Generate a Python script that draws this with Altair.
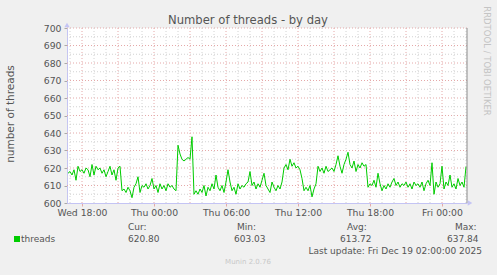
import altair as alt
import pandas as pd

threads = [
    617, 618, 616, 619, 613, 621, 618, 619, 617, 620,
    619, 615, 622, 616, 621, 619, 620, 617, 619, 615,
    618, 621, 616, 619, 613, 620, 621, 607, 608, 606,
    609, 607, 603.03, 609, 611, 615, 606, 610, 609, 611,
    608, 610, 614, 608, 610, 606, 611, 608, 610, 607,
    611, 609, 610, 608, 607, 633, 628, 625, 624, 625,
    626, 625, 637.84, 605, 607, 605, 608, 606, 610, 604,
    609, 607, 611, 608, 616, 609, 607, 610, 606, 612,
    619, 612, 607, 609, 605, 611, 608, 610, 609, 611,
    612, 618, 610, 612, 608, 611, 609, 613, 617, 610,
    608, 606, 612, 609, 607, 610, 608, 612, 620, 622,
    619, 625, 621, 623, 620, 621, 619, 614, 607, 609,
    607, 610, 603.5, 608, 611, 621, 618, 620, 617, 621,
    618, 619, 620, 618, 622, 627, 621, 617, 622, 625,
    629, 622, 620, 624, 618, 622, 620, 623, 621, 622,
    609, 611, 610, 613, 609, 617, 611, 607, 610, 608,
    611, 609, 612, 614, 610, 612, 609, 611, 610, 612,
    609, 611, 608, 612, 610, 611, 609, 612, 607, 611,
    613, 610, 623, 605, 612, 609, 611, 621, 608, 612,
    610, 616, 609, 611, 608, 614, 610, 612, 609, 620.8,
]
times = pd.date_range("2025-12-17 16:50", periods=len(threads), freq="10min")

y_ticks = list(range(600, 701, 10))
y_minor = list(range(605, 700, 10))
hour_lines = pd.date_range("2025-12-17 17:00", "2025-12-19 02:00", freq="1h")
x_label_dt = [
    alt.DateTime(year=2025, month=12, date=17, hours=18),
    alt.DateTime(year=2025, month=12, date=18, hours=0),
    alt.DateTime(year=2025, month=12, date=18, hours=6),
    alt.DateTime(year=2025, month=12, date=18, hours=12),
    alt.DateTime(year=2025, month=12, date=18, hours=18),
    alt.DateTime(year=2025, month=12, date=19, hours=0),
]

title_text = "Number of threads - by day"
y_title = "number of threads"
side_text = "RRDTOOL / TOBI OETIKER"
series_name = "threads"
stat_heads = ["Cur:", "Min:", "Avg:", "Max:"]
stat_vals = ["620.80", "603.03", "613.72", "637.84"]
last_update = "Last update: Fri Dec 19 02:00:00 2025"
footer = "Munin 2.0.76"

FONT = "DejaVu Sans"
W, H = 400, 175
L, T = 67, 28
TXT = "#555555"
MAJOR = "#E5A8A8"
MINOR = "#D2D2D2"
AXIS = "#C4C4F4"

df = pd.DataFrame({"time": times, "threads": threads})
hours_df = pd.DataFrame({"t": hour_lines, "major": [h.hour % 3 == 0 for h in hour_lines]})

x_scale = alt.Scale(domain=[
    alt.DateTime(year=2025, month=12, date=17, hours=16, minutes=45),
    alt.DateTime(year=2025, month=12, date=19, hours=2, minutes=5),
])
y_scale = alt.Scale(domain=[600, 700], nice=False, zero=False)

x_axis = alt.Axis(
    values=x_label_dt, format="%a %H:%M", title=None, grid=False,
    labelFont=FONT, labelFontSize=9.3, labelColor=TXT,
    domainColor=AXIS, tickColor=MAJOR, tickSize=3, labelPadding=2,
    labelFlush=False,
)
y_axis = alt.Axis(
    values=y_ticks, title=None, grid=False,
    labelFont=FONT, labelFontSize=9.3, labelColor=TXT,
    domainColor=AXIS, tickColor="#AAAAAA", tickSize=3, labelPadding=3,
)

hgrid_minor = alt.Chart(pd.DataFrame({"v": y_minor})).mark_rule(
    color=MINOR, strokeDash=[1, 2], strokeWidth=1
).encode(y=alt.Y("v:Q", scale=y_scale, axis=y_axis))
hgrid_major = alt.Chart(pd.DataFrame({"v": y_ticks[1:]})).mark_rule(
    color=MAJOR, strokeDash=[1, 2], strokeWidth=1
).encode(y=alt.Y("v:Q", scale=y_scale, axis=y_axis))
vgrid_minor = alt.Chart(hours_df).transform_filter("!datum.major").mark_rule(
    color=MINOR, strokeDash=[1, 2], strokeWidth=1
).encode(x=alt.X("t:T", scale=x_scale, axis=x_axis))
vgrid_major = alt.Chart(hours_df).transform_filter("datum.major").mark_rule(
    color=MAJOR, strokeDash=[1, 2], strokeWidth=1
).encode(x=alt.X("t:T", scale=x_scale, axis=x_axis))

line = alt.Chart(df).mark_line(color="#00CC00", strokeWidth=1).encode(
    x=alt.X("time:T", scale=x_scale, axis=x_axis),
    y=alt.Y("threads:Q", scale=y_scale, axis=y_axis),
)

one = alt.Data(values=[{"a": 1}])

def label(text, px, py, size=9.0, color=TXT, align="left", angle=0):
    return alt.Chart(one).mark_text(
        text=text, align=align, baseline="middle", fontSize=size,
        color=color, font=FONT, angle=angle,
    ).encode(x=alt.value(px - L), y=alt.value(py - T))

right_border = alt.Chart(one).mark_rule(color="#8C8C8C", strokeWidth=1).encode(
    x=alt.value(W), y=alt.value(0), y2=alt.value(H)
)
up_arrow = alt.Chart(one).mark_point(shape="triangle-up", filled=True, size=28, color=AXIS, opacity=1).encode(
    x=alt.value(0), y=alt.value(-3)
)
right_arrow = alt.Chart(one).mark_point(shape="triangle-right", filled=True, size=28, color=AXIS, opacity=1).encode(
    x=alt.value(W + 3), y=alt.value(H)
)
swatch = alt.Chart(one).mark_rect(color="#00CC00").encode(
    x=alt.value(14 - L), x2=alt.value(20 - L), y=alt.value(236 - T), y2=alt.value(242 - T)
)

texts = [
    label(title_text, 248, 21, size=11.6, align="center"),
    label(y_title, 11, 114, size=10.5, align="center", angle=270),
    label(side_text, 487, 61, size=8.5, color="#C4C4C4", align="center", angle=90),
    label(series_name, 21, 239),
    label(last_update, 482, 251, align="right"),
    label(footer, 248, 262, size=7, color="#C8C8C8", align="center"),
]
head_x = [128, 237, 347, 455]
val_x = [128, 234, 340, 447]
for h, v, hx, vx in zip(stat_heads, stat_vals, head_x, val_x):
    texts.append(label(h, hx, 227))
    texts.append(label(v, vx, 239))

chart = alt.layer(
    hgrid_minor, hgrid_major, vgrid_minor, vgrid_major, line,
    right_border, up_arrow, right_arrow, swatch, *texts,
).properties(
    width=W, height=H,
    autosize=alt.AutoSizeParams(type="none"),
    padding={"left": L, "top": T, "right": 497 - L - W, "bottom": 275 - T - H},
    background="#F0F0F0",
).configure_view(stroke=None, fill="white")

chart.save("out.html", embed_options={"renderer": "svg", "actions": False})
